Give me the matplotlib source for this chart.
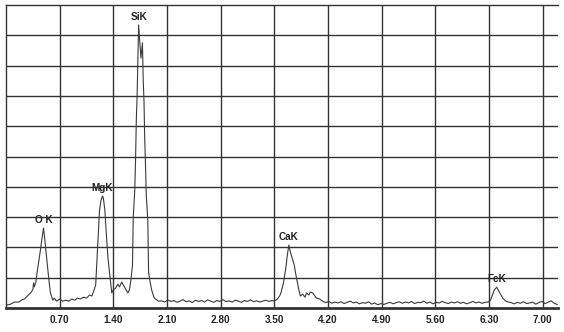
import numpy as np
import matplotlib
matplotlib.use("Agg")
import matplotlib.pyplot as plt

# EDS spectrum: energy (keV) vs counts (full scale = 1000)
peak_e = [0.01, 0.06, 0.11, 0.17, 0.20, 0.24, 0.28, 0.32, 0.35, 0.36, 0.37, 0.39,
          0.41, 0.44, 0.47, 0.49, 0.50, 0.53, 0.56, 0.58, 0.61, 0.63, 0.66, 0.70,
          0.74, 0.78, 0.82, 0.86, 0.90, 0.93, 0.97, 1.01, 1.05, 1.09, 1.12, 1.14,
          1.17, 1.18, 1.20, 1.22, 1.24, 1.26, 1.27, 1.29, 1.31, 1.33, 1.35, 1.37,
          1.38, 1.40, 1.43, 1.46, 1.48, 1.51, 1.53, 1.56, 1.59, 1.61, 1.63, 1.65,
          1.66, 1.68, 1.69, 1.70, 1.71, 1.72, 1.73, 1.75, 1.76, 1.78, 1.79, 1.80,
          1.81, 1.82, 1.83, 1.85, 1.86, 1.88, 1.90, 1.93, 1.95, 1.99]
peak_c = [10, 13, 20, 20, 26, 30, 40, 50, 60, 83, 70, 86,
          125, 175, 231, 264, 241, 165, 92, 50, 26, 33, 23, 30,
          23, 26, 23, 30, 26, 33, 30, 36, 33, 43, 40, 53,
          76, 125, 224, 323, 356, 370, 363, 323, 241, 165, 119, 76,
          50, 60, 66, 79, 70, 86, 76, 63, 50, 60, 92, 142,
          300, 389, 488, 620, 696, 818, 934, 860, 825, 875, 752, 686,
          554, 472, 373, 290, 119, 86, 60, 36, 30, 23]

base_a = [24, 20, 27, 22, 25, 19, 23, 28, 21, 24, 18, 26, 22, 25, 20, 27, 23, 19,
          25, 22, 28, 21, 24, 20, 26, 23, 19, 25, 22, 27, 21, 24, 20, 23, 26, 22, 25]

ca_e = [3.50, 3.54, 3.57, 3.59, 3.62, 3.65, 3.67, 3.69, 3.71, 3.73, 3.76, 3.78,
        3.80, 3.82, 3.84, 3.87, 3.90, 3.92, 3.95, 3.97, 4.00, 4.02, 4.05, 4.09, 4.13]
ca_c = [23, 30, 40, 53, 83, 132, 175, 208, 185, 168, 142, 112,
        86, 60, 40, 46, 36, 50, 43, 53, 50, 43, 33, 30, 23]

base_b = [18, 22, 16, 20, 17, 21, 15, 19, 23, 17, 20, 14, 18, 16, 21, 13, 17, 11,
          15, 12, 16, 19, 14, 18, 21, 16, 20, 17, 22, 15, 19, 18, 23, 16, 20, 14,
          19, 17, 22, 18, 15, 20, 17, 21, 16, 19, 14, 18, 22, 17, 20, 16, 19]

fe_e = [6.29, 6.32, 6.34, 6.37, 6.40, 6.42, 6.45, 6.48, 6.52, 6.55]
fe_c = [20, 26, 40, 60, 69, 60, 46, 33, 23, 20]

base_c = [18, 14, 19, 16, 21, 15, 17, 20, 13, 18, 22, 15, 19, 24, 16, 12]

peak_names = ["O K", "MgK", "SiK", "CaK", "FeK"]
peak_energy = [0.49, 1.26, 1.73, 3.69, 6.40]

tick_vals = [0.70, 1.40, 2.10, 2.80, 3.50, 4.20, 4.90, 5.60, 6.30, 7.00]

energy = np.concatenate([peak_e, np.linspace(2.03, 3.47, len(base_a)), ca_e,
                         np.linspace(4.17, 6.25, len(base_b)), fe_e,
                         np.linspace(6.59, 7.19, len(base_c))])
counts = np.concatenate([peak_c, base_a, ca_c, base_b, fe_c, base_c])

fig = plt.figure(figsize=(5.64, 3.32), dpi=100)
ax = fig.add_axes([0.0106, 0.072, 0.9787, 0.913])

ax.plot(energy, counts, color="#3a3a3a", lw=0.8)

ax.set_xlim(0, 7.2)
ax.set_ylim(0, 1000)
ax.set_xticks(tick_vals)
ax.set_xticklabels(["%.2f" % v for v in tick_vals], fontsize=7.2,
                   fontweight="bold", family="Liberation Sans", color="#222222")
ax.set_yticks(np.arange(100, 1000, 100))
ax.set_yticklabels([])
ax.tick_params(length=0, pad=5)
ax.grid(True, color="#333333", lw=1.0)

for side in ["left", "top", "bottom"]:
    ax.spines[side].set_color("#333333")
ax.spines["left"].set_linewidth(1.0)
ax.spines["top"].set_linewidth(1.0)
ax.spines["bottom"].set_linewidth(2.0)
ax.spines["right"].set_visible(False)

# peak labels sit just above the highest channel near each line energy
for name, e0 in zip(peak_names, peak_energy):
    near = np.abs(energy - e0) < 0.04
    top = counts[near].max()
    ax.annotate(name, (e0, top), xytext=(0, 2), textcoords="offset points",
                ha="center", va="bottom", fontsize=7.2, fontweight="bold",
                family="Liberation Sans", color="#222222")

fig.savefig("out.png", dpi=100)
